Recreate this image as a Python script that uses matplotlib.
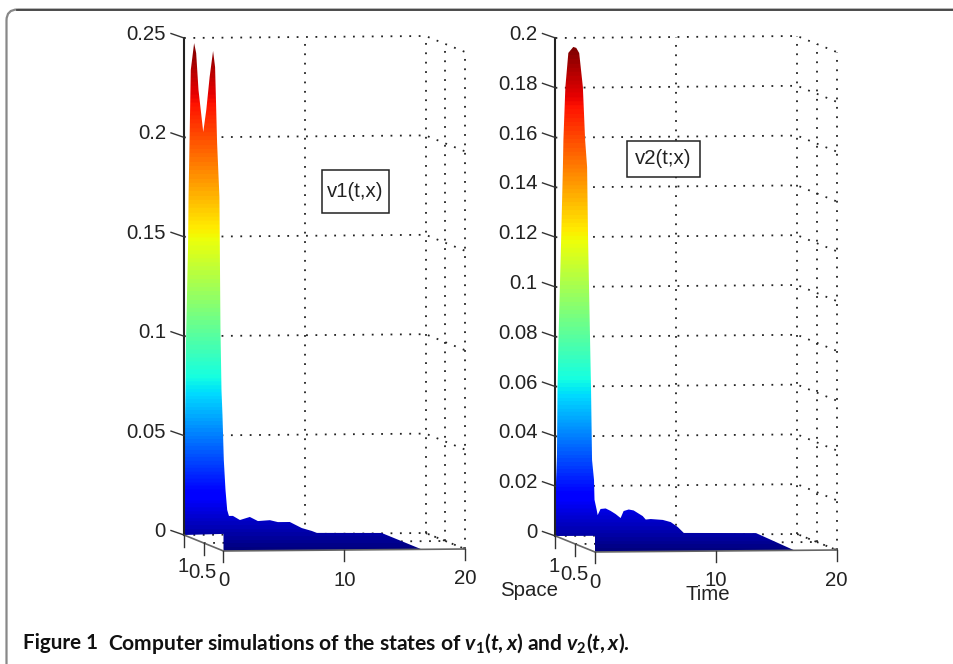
#!/usr/bin/env python3
"""Two oblique 3D surfaces v1(t,x), v2(t,x) drawn by projecting onto a pixel-sized axes."""

import numpy as np
import matplotlib
matplotlib.use('Agg')
import matplotlib.pyplot as plt
from matplotlib.patches import FancyBboxPatch, Polygon, Rectangle

plt.rcParams['font.family'] = ['Liberation Sans', 'DejaVu Sans']
plt.rcParams['mathtext.fontset'] = 'custom'
plt.rcParams['mathtext.rm'] = 'Lato:bold'
plt.rcParams['mathtext.it'] = 'Lato:italic:bold'

# tower silhouette: left side, two peaks, right side
tower1_x = [1, 1, .982, .962, .949, .931, .897, .885, .859, .828, .744, .692, .633, .513, .436,
            .351, .264, .213, .162, .103, .077, .051, .026, 0, 0, 0]
tower1_t = [0] * 23 + [.025, .165, .306]
tower1_v = [0, .0176, .048, .0732, .0985, .1152, .1462, .1709, .1998, .2353, .2495, .2449, .2268,
            .2066, .2183, .2356, .2494, .2417, .2039, .1772, .1116, .0806, .0682, .0458, .0307, .0206]
tail1_t = [3.72, 4.05, 4.63, 5.45, 6.12, 7.11, 7.77, 8.76, 9.75, 10.58, 11.0, 16.36]
tail1_v = [.0094, .0094, .0073, .0088, .0067, .0071, .0061, .0061, .0030, .0015, .0005, .0002]
foot1_v = .0086
end1_t = 16.4

tower2_x = [1, 1, .9625, .95, .925, .8575, .8125, .8, .75, .675, .55, .475, .4, .3075, .25, .2,
            .175, .125, .1, .075, .025, .0125, 0, 0]
tower2_t = [0] * 22 + [.14, .22]
tower2_v = [0, .0157, .0328, .0590, .0792, .1198, .1494, .1603, .1819, .1961, .1993, .1994, .1978,
            .1848, .1639, .1533, .1242, .0843, .0644, .0365, .0288, .0209, .0169, .0148]
tail2_t = [3.73, 4.15, 4.56, 4.98, 5.39, 5.64, 6.06, 6.47, 7.22, 7.47, 7.88, 8.88, 9.54, 10.12, 10.62, 16.6]
tail2_v = [.0107, .0109, .0099, .0086, .0070, .0098, .0104, .0100, .0077, .0063, .0065, .0061, .0052,
           .0032, .0008, .0005]
foot2_v = .0065
end2_t = 16.5

z1_ticks = [0, .05, .1, .15, .2, .25]
z1_labels = ['0', '0.05', '0.1', '0.15', '0.2', '0.25']
z2_ticks = [0, .02, .04, .06, .08, .1, .12, .14, .16, .18, .2]
z2_labels = ['0', '0.02', '0.04', '0.06', '0.08', '0.1', '0.12', '0.14', '0.16', '0.18', '0.2']
t_ticks = [0, 10, 20]
t_labels = ['0', '10', '20']
x_ticks = [1, .5]
x_labels = ['1', '0.5']

DOT = dict(color='#222222', lw=1.3, dashes=(1, 4.2), dash_capstyle='butt', zorder=1)
FS = 14.7
jet = plt.get_cmap('jet', 128)


def panel(ax, x0, k, base, z_ticks, z_labels, tower_x, tower_t, tower_v, tail_t, tail_v, foot_v, end_t):
    # screen position of a point (t, x, v); x0 is the front corner, base the floor y there
    def proj(t, x, v):
        t, x, v = np.asarray(t, float), np.asarray(x, float), np.asarray(v, float)
        return x0 + 12.08 * t - 39.5 * x, base - 16 * x - .1 * t - k * v

    vtop = z_ticks[-1]

    # back wall and side wall grid
    for z in z_ticks:
        ax.plot(*proj([0, 20, 20], [1, 1, 0], [z, z, z]), **DOT)
    for t in [10, 20]:
        ax.plot(*proj([t, t], [1, 1], [0, vtop]), **DOT)
        ax.plot(*proj([t, t], [1, 0], [0, 0]), **DOT)
    for x in [.5, 0]:
        ax.plot(*proj([20, 20], [x, x], [0, vtop]), **DOT)
    ax.plot(*proj([0, 20], [.5, .5], [0, 0]), **DOT)

    # surface: jet ramp clipped to the silhouette, ramp bent so cyan and yellow sit lower
    sx, sy = proj(list(tower_t) + list(tail_t) + [end_t, 0, 0],
                  list(tower_x) + [1] * len(tail_t) + [0, 0, 0],
                  list(tower_v) + list(tail_v) + [0, 0, foot_v])
    ramp = np.interp(np.linspace(0, 1, 512), [0, .10, .34, .627, 1], [0, .11, .375, .65, 1]).reshape(-1, 1)
    img = ax.imshow(ramp, cmap=jet, origin='lower', aspect='auto', zorder=2,
                    extent=(sx.min() - 2, sx.max() + 2, base, sy.min()))
    img.set_clip_path(Polygon(np.column_stack([sx, sy]), transform=ax.transData))

    # solid axes
    ax.plot(*proj([0, 0], [1, 1], [0, vtop]), color='#222222', lw=1.5, zorder=3)
    ax.plot(*proj([0, 0, 20], [1, 0, 0], [0, 0, 0]), color='#666666', lw=1.2, zorder=3)

    for z, lab in zip(z_ticks, z_labels):
        px, py = proj(0, 1, z)
        ax.plot([px - 13, px], [py - 4.5, py], color='#333333', lw=1, zorder=3)
        ax.text(px - 18, py - 3.5, lab, ha='right', va='center', fontsize=FS, color='#222222')
    for t, lab in zip(t_ticks, t_labels):
        px, py = proj(t, 0, 0)
        ax.plot([px, px], [py, py + 11], color='#333333', lw=1, zorder=3)
        ax.text(px, py + 30, lab, ha='center', va='center', fontsize=FS, color='#222222')
    for x, lab, dy in zip(x_ticks, x_labels, [31, 30]):
        px, py = proj(0, x, 0)
        ax.plot([px, px], [py, py + 12], color='#333333', lw=1, zorder=3)
        ax.text(px - 1, py + dy, lab, ha='center', va='center', fontsize=FS, color='#222222')


def main():
    fig = plt.figure(figsize=(9.54, 6.64), dpi=100)
    ax = fig.add_axes([0, 0, 1, 1])

    panel(ax, 223.5, 1988, 551, z1_ticks, z1_labels, tower1_x, tower1_t, tower1_v,
          tail1_t, tail1_v, foot1_v, end1_t)
    panel(ax, 595, 2490, 552, z2_ticks, z2_labels, tower2_x, tower2_t, tower2_v,
          tail2_t, tail2_v, foot2_v, end2_t)

    ax.set_xlim(0, 954)
    ax.set_ylim(664, 0)
    ax.axis('off')

    # page frame, runs off the right and bottom edges
    ax.add_patch(FancyBboxPatch((6.5, 9.5), 1100, 800, boxstyle='round,pad=0,rounding_size=11',
                                fc='none', ec='#888888', lw=1.6, zorder=0))
    ax.plot([17, 954], [9.5, 9.5], color='#444444', lw=1.3, zorder=0)

    ax.add_patch(Rectangle((322, 170), 67, 43, fc='white', ec='#222222', lw=1.1, zorder=4))
    ax.add_patch(Rectangle((627, 140.5), 73, 36.5, fc='white', ec='#222222', lw=1.1, zorder=4))
    ax.text(355.5, 191.5, 'v1(t,x)', ha='center', va='center', fontsize=FS, color='#222222', zorder=5)
    ax.text(663.5, 158.5, 'v2(t;x)', ha='center', va='center', fontsize=FS, color='#222222', zorder=5)
    ax.text(529.5, 591, 'Space', ha='center', va='center', fontsize=FS, color='#222222')
    ax.text(708, 595, 'Time', ha='center', va='center', fontsize=FS, color='#222222')

    cap = dict(family='Lato', weight='bold', color='#111111', va='center')
    ax.text(23, 643, 'Figure 1', fontsize=14.9, **cap)
    ax.text(108, 643, r'Computer simulations of the states of $v_1(t,x)$ and $v_2(t,x)$.', fontsize=15.1, **cap)

    plt.savefig('out.png', dpi=100)


if __name__ == "__main__":
    main()
